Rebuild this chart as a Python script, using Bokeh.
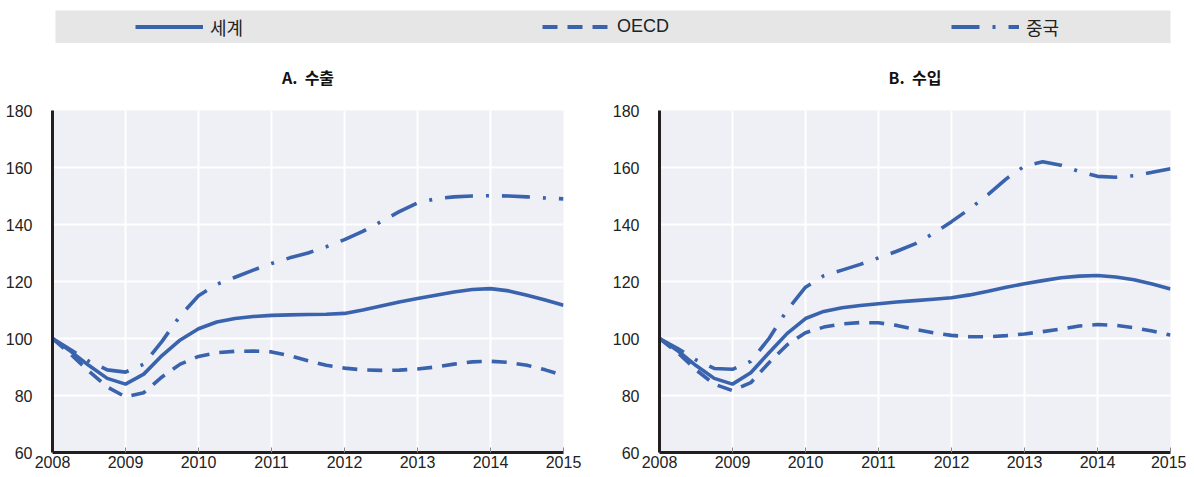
from bokeh.plotting import figure
from bokeh.models import Range1d, FixedTicker, Legend, LegendItem
from bokeh.layouts import column, row
from bokeh.embed import file_html
from bokeh.resources import INLINE

# ---------------- data ----------------
years = [2008.0, 2008.25, 2008.5, 2008.75, 2009.0, 2009.25, 2009.5, 2009.75,
         2010.0, 2010.25, 2010.5, 2010.75, 2011.0, 2011.25, 2011.5, 2011.75,
         2012.0, 2012.25, 2012.5, 2012.75, 2013.0, 2013.25, 2013.5, 2013.75,
         2014.0, 2014.25, 2014.5, 2014.75, 2015.0]
year_ticks = [2008, 2009, 2010, 2011, 2012, 2013, 2014, 2015]
value_ticks = [60, 80, 100, 120, 140, 160, 180]

series_names = ["세계", "OECD", "중국"]
panel_titles = ["A.\u00a0 수출", "B.\u00a0 수입"]

# A. exports
exp_world = [100, 95.5, 90.5, 86, 84, 87.5, 94, 99.5,
             103.4, 105.8, 107, 107.7, 108.1, 108.3, 108.4, 108.5,
             108.8, 110, 111.4, 112.8, 114, 115.2, 116.3, 117.2,
             117.5, 116.7, 115.2, 113.5, 111.7]
exp_oecd = [100, 94.5, 88.5, 83, 79.5, 81, 86.5, 91,
            93.7, 95, 95.5, 95.6, 95.3, 94, 92.2, 90.6,
            89.6, 89, 88.8, 88.9, 89.3, 90, 91, 91.8,
            92, 91.6, 90.6, 89, 87]
exp_china = [100, 96, 92, 89, 88.2, 91, 99, 108,
             115, 119, 121.5, 124, 126.3, 128.3, 130, 132.2,
             134.7, 137.6, 141, 144.5, 147.6, 149, 149.7, 150,
             150.1, 150, 149.7, 149.3, 149]

# B. imports
imp_world = [100, 95.7, 90.5, 86, 84, 88, 95, 101.8,
             107, 109.5, 110.8, 111.6, 112.2, 112.8, 113.3, 113.8,
             114.3, 115.3, 116.6, 118, 119.2, 120.3, 121.3, 121.9,
             122.1, 121.6, 120.6, 119.1, 117.4]
imp_oecd = [100, 95, 89, 84, 81.7, 84.5, 91.5, 97.8,
            102, 104, 105.1, 105.6, 105.5, 104.6, 103.2, 102,
            101.1, 100.6, 100.6, 101, 101.6, 102.4, 103.3, 104.4,
            104.9, 104.6, 103.8, 102.6, 101.2]
imp_china = [100, 96.5, 92.5, 89.5, 89.2, 92, 100, 110,
             118, 122, 124, 126, 128.3, 130.6, 133.2, 136.8,
             141, 145.5, 150.5, 156, 160.5, 162, 160.8, 158.6,
             156.9, 156.6, 157.1, 158.3, 159.6]

# ---------------- style ----------------
BLUE = "#3A63AD"
PLOT_BG = "#EFEFF6"
BAND_BG = "#E6E6E6"
AXIS_COL = "#231F20"
TXT_COL = "#222222"
NUM_FONT = "'Liberation Sans', sans-serif"
KR_FONT = "'Noto Sans CJK KR', sans-serif"
MIX_FONT = "'Liberation Sans', 'Noto Sans CJK KR', sans-serif"

STYLES = [
    dict(line_dash="solid"),
    dict(line_dash="15 10"),
    dict(line_dash="28 13 3 13"),
]
LW = 3.6


def panel(title, data, left_b, right_b):
    p = figure(frame_width=511, frame_height=342,
               x_range=Range1d(2008, 2015), y_range=Range1d(60, 180),
               min_border_left=left_b, min_border_right=right_b,
               min_border_top=67, min_border_bottom=20,
               background_fill_color=PLOT_BG, outline_line_color=None,
               output_backend="svg", toolbar_location=None, title=title)
    p.title.align = "center"
    p.title.vertical_align = "top"
    p.title.text_font = KR_FONT
    p.title.text_font_size = "16px"
    p.title.text_font_style = "bold"
    p.title.text_color = "#111111"
    p.title.standoff = 39

    for vals, st in zip(data, STYLES):
        p.line(years, vals, line_color=BLUE, line_width=LW, **st)

    p.xaxis.ticker = FixedTicker(ticks=year_ticks)
    p.yaxis.ticker = FixedTicker(ticks=value_ticks)
    for ax in (p.xaxis[0], p.yaxis[0]):
        ax.axis_line_color = AXIS_COL
        ax.axis_line_width = 3
        ax.minor_tick_line_color = None
        ax.major_label_text_font = NUM_FONT
        ax.major_label_text_font_size = "16px"
        ax.major_label_text_color = TXT_COL
    p.xaxis.major_tick_in = 5
    p.xaxis.major_tick_out = 0
    p.xaxis.major_tick_line_color = "#888888"
    p.xaxis.major_label_standoff = 3
    p.yaxis.major_tick_line_color = None
    p.yaxis.major_label_standoff = 14

    p.xgrid.ticker = FixedTicker(ticks=year_ticks)
    p.ygrid.ticker = FixedTicker(ticks=value_ticks)
    p.grid.grid_line_color = "white"
    p.grid.grid_line_width = 2
    return p


left = panel(panel_titles[0], [exp_world, exp_oecd, exp_china], 52, 37)
right = panel(panel_titles[1], [imp_world, imp_oecd, imp_china], 59, 16)

# ---------------- legend band ----------------
h = figure(frame_width=1115, frame_height=33, x_range=Range1d(0, 1), y_range=Range1d(0, 1),
           min_border_left=55, min_border_right=16, min_border_top=10,
           min_border_bottom=0, background_fill_color=BAND_BG,
           outline_line_color=None, output_backend="svg", toolbar_location=None)
h.xaxis.visible = False
h.yaxis.visible = False
h.grid.visible = False

items = []
for name, st in zip(series_names, STYLES):
    # legend sample renderers: lie outside the visible band, only their style is shown
    r = h.line(x=[5, 6], y=[5, 5], line_color=BLUE, line_width=4, **st)
    items.append(LegendItem(label=name, renderers=[r]))

legend = Legend(items=items, orientation="horizontal", location=(80, 0),
                glyph_width=68, glyph_height=33, label_height=33, label_width=50,
                label_standoff=7, spacing=282, padding=0, margin=0,
                border_line_color=None, background_fill_alpha=0,
                label_text_font=MIX_FONT, label_text_font_size="18px",
                label_text_color=TXT_COL)
h.add_layout(legend)

layout = column(h, row(left, right))
open("out.html", "w").write(file_html(layout, INLINE))
